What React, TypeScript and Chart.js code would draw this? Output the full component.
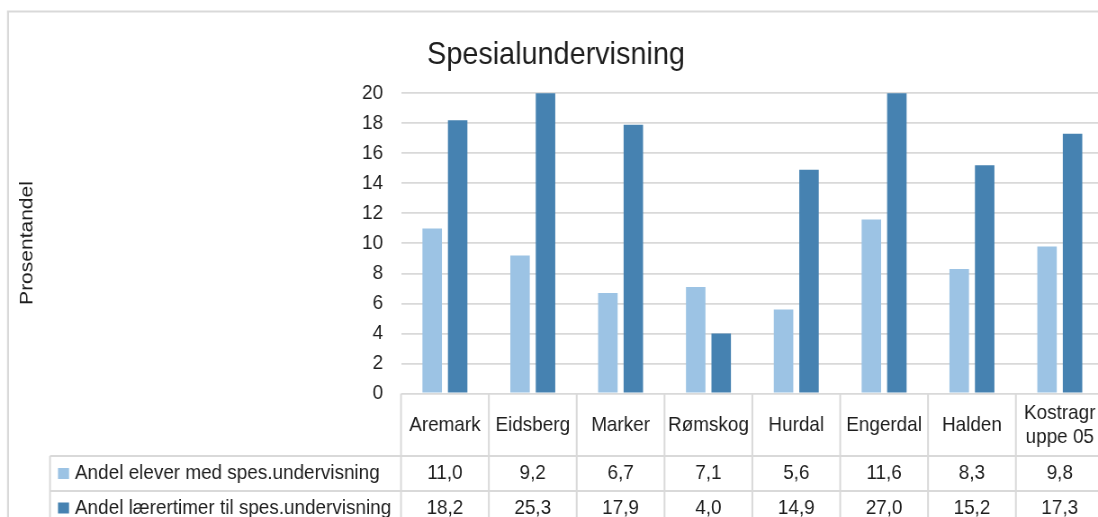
import React, { useEffect, useRef } from "react";
import { Chart, registerables } from "chart.js";

Chart.register(...registerables);

// ---------- data ----------
const chartTitle = "Spesialundervisning";
const yAxisTitle = "Prosentandel";
const categories: (string | string[])[] = [
  "Aremark",
  "Eidsberg",
  "Marker",
  "Rømskog",
  "Hurdal",
  "Engerdal",
  "Halden",
  ["Kostragr", "uppe 05"],
];
const seriesNames = [
  "Andel elever med spes.undervisning",
  "Andel lærertimer til spes.undervisning",
];
const andelElever = [11.0, 9.2, 6.7, 7.1, 5.6, 11.6, 8.3, 9.8];
const andelLarertimer = [18.2, 25.3, 17.9, 4.0, 14.9, 27.0, 15.2, 17.3];
const yMin = 0;
const yMax = 20;
const yStep = 2;

// ---------- style ----------
const seriesColors = ["#9CC3E4", "#4682B1"];
const GRID = "#d9d9d9";
const TEXT = "#1e1e1e";
const FONT = "'Liberation Sans', Arial, sans-serif";
const SX = 0.9; // horizontal compression of the whole drawing
const VIEW_W = 1098;
const VIEW_H = 517;
const CANVAS_W = 1234;
const sx = (x: number) => x / SX;

const fmt = (v: number) => v.toFixed(1).replace(".", ",");

const decorPlugin = {
  id: "decor",
  afterDraw(chart: any) {
    const ctx: CanvasRenderingContext2D = chart.ctx;
    const area = chart.chartArea;
    const xs = chart.scales.x;
    const n = categories.length;
    const cw = (area.right - area.left) / n;
    const W = chart.width;
    const H = chart.height;
    const tableTop = area.bottom;
    const row1Top = 456;
    const row2Top = 491;
    const row3Top = 525;
    const labelLeft = sx(50);

    ctx.save();
    // outer frame
    ctx.strokeStyle = GRID;
    ctx.lineWidth = 2.2;
    ctx.beginPath();
    ctx.moveTo(sx(8), H + 5);
    ctx.lineTo(sx(8), 11.5);
    ctx.lineTo(W + 5, 11.5);
    ctx.stroke();

    // table lines
    ctx.lineWidth = 1.8 / SX;
    ctx.beginPath();
    for (let i = 0; i <= n; i++) {
      const x = i < n ? xs.getPixelForValue(i) - cw / 2 : xs.getPixelForValue(n - 1) + cw / 2;
      ctx.moveTo(x, tableTop);
      ctx.lineTo(x, H + 5);
    }
    ctx.moveTo(labelLeft, row1Top);
    ctx.lineTo(labelLeft, H + 5);
    ctx.stroke();
    ctx.lineWidth = 1.8;
    ctx.beginPath();
    ctx.moveTo(labelLeft, row1Top);
    ctx.lineTo(W + 5, row1Top);
    ctx.moveTo(labelLeft, row2Top);
    ctx.lineTo(W + 5, row2Top);
    ctx.stroke();

    ctx.fillStyle = TEXT;
    // title
    ctx.font = `32px ${FONT}`;
    ctx.textAlign = "center";
    ctx.textBaseline = "alphabetic";
    ctx.fillText(chartTitle, sx(556), 64);

    // y axis title
    ctx.save();
    ctx.translate(sx(27), 243);
    ctx.rotate(-Math.PI / 2);
    ctx.font = `21px ${FONT}`;
    ctx.textAlign = "center";
    ctx.textBaseline = "middle";
    ctx.fillText(yAxisTitle, 0, 0);
    ctx.restore();

    // category header
    ctx.font = `21px ${FONT}`;
    ctx.textAlign = "center";
    ctx.textBaseline = "middle";
    const headerMid = (tableTop + row1Top) / 2 + 0.5;
    categories.forEach((c, i) => {
      const x = xs.getPixelForValue(i);
      const lines = Array.isArray(c) ? c : [c];
      const lh = 24;
      lines.forEach((t, j) => {
        const y = headerMid + (j - (lines.length - 1) / 2) * lh;
        ctx.fillText(t, x, y);
      });
    });

    // rows
    const rows = [andelElever, andelLarertimer];
    const rowTops = [row1Top, row2Top];
    const rowBottoms = [row2Top, row3Top];
    rows.forEach((vals, r) => {
      const mid = (rowTops[r] + rowBottoms[r]) / 2;
      ctx.fillStyle = seriesColors[r];
      ctx.fillRect(sx(58), mid - 5.5, 11 / SX, 11);
      ctx.fillStyle = TEXT;
      ctx.textAlign = "left";
      ctx.fillText(seriesNames[r], sx(75), mid);
      ctx.textAlign = "center";
      vals.forEach((v, i) => {
        ctx.fillText(fmt(v), xs.getPixelForValue(i), mid);
      });
    });
    ctx.restore();
  },
};

export default function App() {
  const ref = useRef<HTMLCanvasElement | null>(null);

  useEffect(() => {
    if (!ref.current) return;
    const chart = new Chart(ref.current, {
      type: "bar",
      data: {
        labels: categories as any,
        datasets: [
          {
            label: seriesNames[0],
            data: andelElever,
            backgroundColor: seriesColors[0],
            borderWidth: 0,
            categoryPercentage: 0.58,
            barPercentage: 0.765,
          },
          {
            label: seriesNames[1],
            data: andelLarertimer,
            backgroundColor: seriesColors[1],
            borderWidth: 0,
            categoryPercentage: 0.58,
            barPercentage: 0.765,
          },
        ],
      },
      options: {
        responsive: false,
        animation: false,
        events: [],
        layout: {
          padding: { left: sx(401) - 100, right: CANVAS_W - sx(1103.7), top: 93.3, bottom: VIEW_H - 393.5 },
        },
        plugins: {
          legend: { display: false },
          tooltip: { enabled: false },
          title: { display: false },
        },
        scales: {
          x: { display: false },
          y: {
            min: yMin,
            max: yMax,
            afterFit: (s: any) => {
              s.width = 100;
            },
            ticks: {
              stepSize: yStep,
              padding: 20,
              color: TEXT,
              font: { family: FONT, size: 21 },
            },
            grid: { color: GRID, lineWidth: 1.8, drawTicks: false },
            border: { display: false },
          },
        },
      },
      plugins: [decorPlugin],
    });
    return () => chart.destroy();
  }, []);

  return (
    <div
      style={{
        position: "fixed",
        left: 0,
        top: 0,
        width: VIEW_W,
        height: VIEW_H,
        overflow: "hidden",
        background: "#fff",
      }}
    >
      <div
        style={{
          width: CANVAS_W,
          height: VIEW_H,
          transform: `scaleX(${SX})`,
          transformOrigin: "0 0",
        }}
      >
        <canvas ref={ref} width={CANVAS_W} height={VIEW_H} />
      </div>
    </div>
  );
}
